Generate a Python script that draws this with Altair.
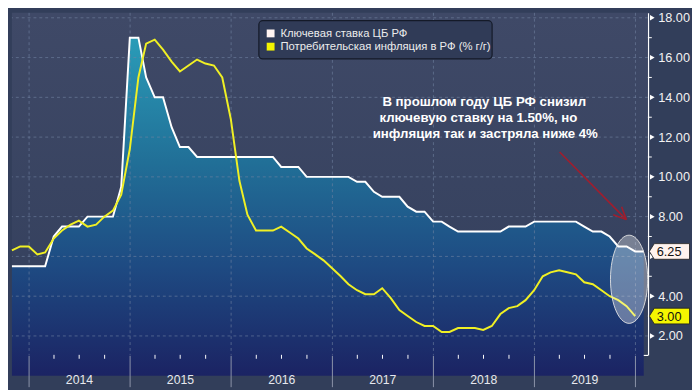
import math
import altair as alt
import pandas as pd

# ---------------- data ----------------
months = pd.date_range("2013-10-01", periods=76, freq="MS") + pd.offsets.MonthEnd(0)

key_rate = [
    5.5, 5.5, 5.5,
    5.5, 5.5, 7.0, 7.5, 7.5, 7.5, 8.0, 8.0, 8.0, 8.0, 9.5, 17.0,
    17.0, 15.0, 14.0, 14.0, 12.5, 11.5, 11.5, 11.0, 11.0, 11.0, 11.0, 11.0,
    11.0, 11.0, 11.0, 11.0, 11.0, 10.5, 10.5, 10.5, 10.0, 10.0, 10.0, 10.0,
    10.0, 10.0, 9.75, 9.75, 9.25, 9.0, 9.0, 9.0, 8.5, 8.25, 8.25, 7.75,
    7.75, 7.5, 7.25, 7.25, 7.25, 7.25, 7.25, 7.25, 7.5, 7.5, 7.5, 7.75,
    7.75, 7.75, 7.75, 7.75, 7.75, 7.5, 7.25, 7.25, 7.0, 6.5, 6.5, 6.25,
    6.25,
]

inflation = [
    6.3, 6.5, 6.5,
    6.1, 6.2, 6.9, 7.3, 7.6, 7.8, 7.5, 7.6, 8.0, 8.3, 9.1, 11.4,
    15.0, 16.7, 16.9, 16.4, 15.8, 15.3, 15.6, 15.9, 15.7, 15.6, 15.0, 12.9,
    9.8, 8.1, 7.3, 7.3, 7.3, 7.5, 7.2, 6.9, 6.4, 6.1, 5.8, 5.4,
    5.0, 4.6, 4.3, 4.1, 4.1, 4.4, 3.9, 3.3, 3.0, 2.7, 2.5, 2.5,
    2.2, 2.2, 2.4, 2.4, 2.4, 2.3, 2.5, 3.1, 3.4, 3.5, 3.8, 4.3,
    5.0, 5.2, 5.3, 5.2, 5.1, 4.7, 4.6, 4.3, 4.0, 3.8, 3.5, 3.0,
]

year_labels = ["2014", "2015", "2016", "2017", "2018", "2019"]
year_edges = [2014, 2015, 2016, 2017, 2018, 2019, 2020]
y_ticks = [2, 4, 6, 8, 10, 12, 14, 16, 18]
y_minor = [3, 5, 7, 9, 11, 13, 15, 17]

legend_labels = ["Ключевая ставка ЦБ РФ", "Потребительская инфляция в РФ (% г/г)"]
note_lines = [
    "В прошлом году ЦБ РФ снизил",
    "ключевую ставку на 1.50%, но",
    "инфляция так и застряла ниже 4%",
]

# ---------------- layout / style ----------------
W, H = 649, 349
FONT = "Liberation Sans"
WHITE = "#ffffff"
YELLOW = "#f0f024"
GRID = "#7383a3"

rate_df = pd.DataFrame({"date": months, "v": key_rate})
infl_df = pd.DataFrame({"date": months[: len(inflation)], "v": inflation})
one = pd.DataFrame({"k": [0]})

x_scale = alt.Scale(domain=[alt.DateTime(year=2013, month=10, date=31),
                            alt.DateTime(year=2020, month=2, date=15)])
y_scale = alt.Scale(domain=[1.05, 18.25], nice=False, zero=False)

x_axis = alt.Axis(values=[alt.DateTime(year=y, month=1, date=1) for y in year_edges],
                  labels=False, ticks=False, grid=False, domain=True,
                  domainColor=WHITE, domainWidth=1.5, title=None)
# the 6.00 label sits under the 6.25 value tag in the reference, so it is left blank
y_axis = alt.Axis(orient="right", values=y_ticks, format=".2f", ticks=False, grid=False,
                  labelExpr="datum.value == 6 ? '' : datum.label",
                  domain=True, domainColor=WHITE, domainWidth=1.5, labelPadding=10,
                  labelColor="#f2f2f2", labelFontSize=13, labelFont=FONT, title=None)


def X(f):
    return alt.X(f, type="temporal", scale=x_scale, axis=x_axis)


def Y(f):
    return alt.Y(f, type="quantitative", scale=y_scale, axis=y_axis)


# background of the plot
bg = alt.Chart(one).mark_rect(
    fill=alt.LinearGradient(gradient="linear",
                            stops=[alt.GradientStop(color="#3f4967", offset=0),
                                   alt.GradientStop(color="#333f5c", offset=1)],
                            x1=0, x2=0, y1=0, y2=1)
).encode(x=alt.value(0), x2=alt.value(W), y=alt.value(0), y2=alt.value(H))

area = alt.Chart(rate_df).mark_area(
    fill=alt.LinearGradient(gradient="linear",
                            stops=[alt.GradientStop(color="#2a9cb8", offset=0),
                                   alt.GradientStop(color="#216f97", offset=0.37),
                                   alt.GradientStop(color="#1e4a82", offset=0.68),
                                   alt.GradientStop(color="#1b2363", offset=1)],
                            x1=0, x2=0, y1=0, y2=1)
).encode(x=X("date"), y=Y("v"), y2=alt.value(H))

hgrid = alt.Chart(pd.DataFrame({"v": y_ticks})).mark_rule(
    strokeDash=[3, 3], color=GRID, strokeWidth=1, opacity=0.6
).encode(y=Y("v"))

vgrid = alt.Chart(pd.DataFrame({"date": [pd.Timestamp(y, 1, 1) for y in year_edges]})).mark_rule(
    strokeDash=[3, 3], color=GRID, strokeWidth=1, opacity=0.6
).encode(x=X("date"))

rate_line = alt.Chart(rate_df).mark_line(color=WHITE, strokeWidth=2).encode(x=X("date"), y=Y("v"))
infl_line = alt.Chart(infl_df).mark_line(color=YELLOW, strokeWidth=2).encode(x=X("date"), y=Y("v"))

# ellipse highlight
pts = []
for i in range(60):
    a = 2 * math.pi * i / 60
    pts.append(f"{0.422 * math.cos(a):.4f} {math.sin(a):.4f}")
ellipse_path = "M " + " L ".join(pts) + " Z"
ellipse = alt.Chart(pd.DataFrame({"date": [pd.Timestamp(2019, 12, 9)], "v": [4.85]})).mark_point(
    shape=ellipse_path, size=8100, filled=True, color=WHITE, opacity=1,
    fillOpacity=0.33, stroke="#e6e6e6", strokeWidth=1, strokeOpacity=0.9
).encode(x=X("date"), y=Y("v"))

# red arrow
arrow_df = pd.DataFrame({
    "date": [pd.Timestamp(2019, 4, 2), pd.Timestamp(2019, 11, 29), pd.Timestamp(2019, 11, 29)],
    "x2": [pd.Timestamp(2019, 11, 29), pd.Timestamp(2019, 10, 13), pd.Timestamp(2019, 11, 12)],
    "v": [11.25, 7.85, 7.85],
    "y2": [7.85, 8.09, 8.50],
})
arrow = alt.Chart(arrow_df).mark_rule(color="#a11d2d", strokeWidth=1.6).encode(
    x=X("date"), x2=alt.X2("x2"), y=Y("v"), y2=alt.Y2("y2"))

# annotation
note_layers = []
for txt, cx, by in zip(note_lines, [482, 476, 483], [95, 111, 128]):
    note_layers.append(
        alt.Chart(one).mark_text(text=txt, font=FONT, fontSize=13.5, fontWeight="bold",
                                 color=WHITE, align="center", baseline="alphabetic")
        .encode(x=alt.value(cx), y=alt.value(by)))

# legend
leg_box = alt.Chart(one).mark_rect(fill="#303b57", stroke="#141a28", strokeWidth=1.2,
                                   cornerRadius=4).encode(
    x=alt.value(252), x2=alt.value(490), y=alt.value(8), y2=alt.value(47))
leg_items = []
for lab, col, cy in zip(legend_labels, ["#fff4f2", "#f5f500"], [21, 34.5]):
    leg_items.append(alt.Chart(one).mark_point(shape="square", size=64, filled=True,
                                               color=col, opacity=1)
                     .encode(x=alt.value(264), y=alt.value(cy)))
    leg_items.append(alt.Chart(one).mark_text(text=lab, font=FONT, fontSize=11.5,
                                              color="#ececec", align="left", baseline="middle")
                     .encode(x=alt.value(274), y=alt.value(cy + 0.5)))

# axis decorations
tri = alt.Chart(pd.DataFrame({"v": y_ticks})).mark_point(
    shape="triangle-right", size=30, filled=True, color=WHITE, opacity=1
).encode(x=alt.value(W + 4.5), y=Y("v"))
minor = alt.Chart(pd.DataFrame({"v": y_minor})).mark_rule(color=WHITE, strokeWidth=1).encode(
    x=alt.value(W), x2=alt.value(W + 4), y=Y("v"))

quarters = [pd.Timestamp(y, m, 1) for y in range(2014, 2020) for m in (4, 7, 10)]
qticks = alt.Chart(pd.DataFrame({"date": quarters})).mark_rule(color=WHITE, strokeWidth=1).encode(
    x=X("date"), y=alt.value(H), y2=alt.value(H + 4))
ylines = alt.Chart(pd.DataFrame({"date": [pd.Timestamp(y, 1, 1) for y in year_edges]})).mark_rule(
    color="#8d95aa", strokeWidth=1).encode(x=X("date"), y=alt.value(H + 1), y2=alt.value(H + 33))
ylabels = alt.Chart(pd.DataFrame({"date": [pd.Timestamp(int(y), 7, 2) for y in year_labels],
                                  "label": year_labels})).mark_text(
    font=FONT, fontSize=12.5, color="#e6e8ef", baseline="middle", align="center"
).encode(x=X("date"), y=alt.value(H + 26), text="label:N")

# value tags
tag_path = "M -1 0 L -0.76 -0.38 L 0.95 -0.38 L 0.95 0.38 L -0.76 0.38 Z"
tag_df = pd.DataFrame({"v": [key_rate[-1], inflation[-1]],
                       "label": [f"{key_rate[-1]:.2f}", f"{inflation[-1]:.2f}"],
                       "c": ["#fff3ee", "#f5f500"]})
tags = alt.Chart(tag_df).mark_point(shape=tag_path, size=1764, filled=True, opacity=1,
                                    stroke="#1c1c1c", strokeWidth=0.8).encode(
    x=alt.value(W + 22.5), y=Y("v"), fill=alt.Fill("c:N", scale=None))
tag_text = alt.Chart(tag_df).mark_text(font=FONT, fontSize=13, color="#111111",
                                       align="left", baseline="middle", dy=1).encode(
    x=alt.value(W + 9), y=Y("v"), text="label:N")

chart = alt.layer(
    bg, area, hgrid, vgrid, rate_line, infl_line, ellipse, arrow,
    *note_layers, leg_box, *leg_items,
    tri, minor, qticks, ylines, ylabels, tags, tag_text,
).properties(width=W, height=H, padding=0, background="#323e5a").configure_view(stroke=None)

chart.save("out.html", embed_options={"renderer": "svg", "actions": False})
